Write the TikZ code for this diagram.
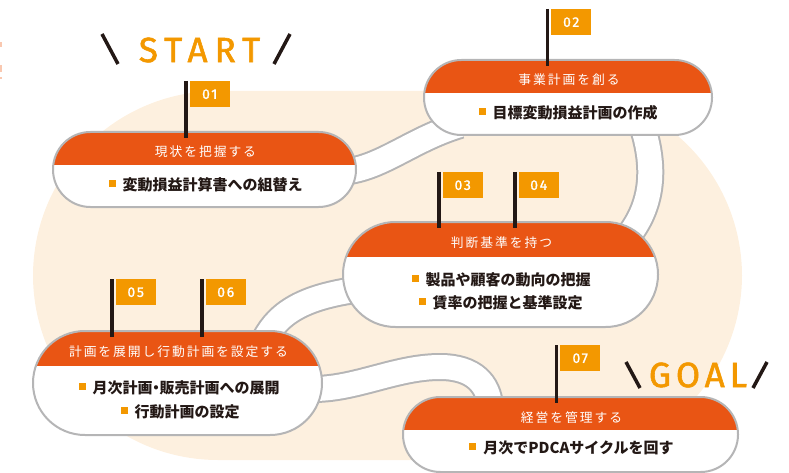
\documentclass[tikz,border=0pt]{standalone}
\usepackage{fontspec}
\newfontfamily\jp{Noto Sans CJK JP}
\newfontfamily\jpt[LetterSpace=15]{Noto Sans CJK JP}
\newfontfamily\dinbig[LetterSpace=14,FakeBold=1.6]{Fira Sans}
\newfontfamily\dinwide[LetterSpace=20,FakeBold=1.6]{Fira Sans}
\newfontfamily\dinnum[LetterSpace=12,FakeBold=1.2]{Fira Sans}
\definecolor{band}{HTML}{E95514}
\definecolor{flagc}{HTML}{F39800}
\definecolor{beige}{HTML}{FDF0DF}
\definecolor{edge}{HTML}{B5B5B6}
\definecolor{ink}{HTML}{231815}
\definecolor{markc}{HTML}{F9C8B0}
\newcommand\stepbox[6]{%
  \begin{scope}
    \clip[rounded corners=#6pt] (#1,#2) rectangle (#3,#4);
    \fill[white] (#1,#2) rectangle (#3,#4);
    \fill[band] (#1,#2) rectangle (#3,#5);
  \end{scope}
  \draw[edge, line width=2pt, rounded corners=#6pt] (#1,#2) rectangle (#3,#4);}
\newcommand\flagat[5]{% name, pole x, top y, bottom y, label
  \draw[ink, line width=3.5pt] (#2,#3) -- (#2,#4);
  \node[flagbox, anchor=north west] (#1) at (#2+3.5,#3) {#5};}
\newcommand\blt{\textcolor{flagc}{\raisebox{3.5pt}{\rule{7pt}{7pt}}}\hspace{7pt}}
\begin{document}
\begin{tikzpicture}[x=1pt,y=-1pt,
  road/.style={draw=edge, line width=2pt, double=white, double distance=24pt},
  flagbox/.style={fill=flagc, minimum width=40pt, minimum height=26pt, inner sep=0pt, text=white, font=\dinnum\fontsize{14}{14}\selectfont},
  ttl/.style={anchor=base, text=white, inner sep=0pt, font=\jpt\fontsize{12.8}{14}\selectfont},
  bul/.style={anchor=base, text=ink, inner sep=0pt, font=\jp\bfseries\fontsize{15}{18}\selectfont},
  big/.style={text=flagc, inner sep=0pt, font=\dinbig\fontsize{35}{36}\selectfont},
  slash/.style={ink, line width=3.5pt}]
\useasboundingbox (0,0) rectangle (789,473);
% background
\fill[beige, rounded corners=185pt] (33,91) rectangle (742,460);
\fill[markc] (0,42) rectangle (1.5,47);
\fill[markc] (0,65) rectangle (1.5,72);
\fill[markc] (0,77) rectangle (1.5,79);
% roads
\draw[road] (340,172) .. controls (380,170) and (410,140) .. (460,125);
\draw[road] (642,125) .. controls (655,165) and (655,205) .. (625,240);
\draw[road] (355,290) .. controls (300,298) and (275,315) .. (262,345);
\draw[road] (310,389) .. controls (355,390) and (395,367) .. (440,367) .. controls (475,367) and (488,385) .. (490,405);
% steps
\stepbox{53}{132}{356}{207}{165}{37.4}
\stepbox{424}{60}{712}{135}{93}{37.4}
\stepbox{343}{222}{658}{327}{257}{52.4}
\stepbox{33}{331}{322}{435}{366}{51.9}
\stepbox{403}{397}{738}{472}{430}{37.4}
% flags
\flagat{f1}{186}{81}{138}{01}
\flagat{f2}{547.5}{9}{66}{02}
\flagat{f3}{439}{172}{228}{03}
\flagat{f4}{515}{172}{228}{04}
\flagat{f5}{112}{279}{337}{05}
\flagat{f6}{202}{279}{337}{06}
\flagat{f7}{556.5}{345}{403}{07}
% titles
\node[ttl] (t1) at (205.5,156.8) {現状を把握する};
\node[ttl] (t2) at (569,84.8) {事業計画を創る};
\node[ttl] (t3) at (501.5,247.8) {判断基準を持つ};
\node[ttl] (t5) at (178.5,356.8) {計画を展開し行動計画を設定する};
\node[ttl] (t7) at (571.5,422.8) {経営を管理する};
% bullets
\node[bul] (b1) at (205.5,190.7) {\blt 変動損益計算書への組替え};
\node[bul] (b2) at (568,118.7) {\blt 目標変動損益計画の作成};
\node[bul] (b3a) at (501,285.7) {\blt 製品や顧客の動向の把握};
\node[bul] (b3b) at (500.5,308.7) {\blt 賃率の把握と基準設定};
\node[bul] (b5a) at (179,393.7) {\blt 月次計画\hspace{-4pt}・\hspace{-4pt}販売計画への展開};
\node[bul] (b5b) at (180,417.7) {\blt 行動計画の設定};
\node[bul] (b7) at (571.5,453.7) {\blt 月次でPDCAサイクルを回す};
% START / GOAL
\node[big, font=\dinwide\fontsize{35}{36}\selectfont] (start) at (199.5,50) {START};
\draw[slash] (102,34) -- (118,64);
\draw[slash] (290,34) -- (274,64);
\node[big] (goal) at (698,375) {GOAL};
\draw[slash] (626,362) -- (640,388);
\draw[slash] (767,362) -- (753,388);
\end{tikzpicture}
\end{document}
